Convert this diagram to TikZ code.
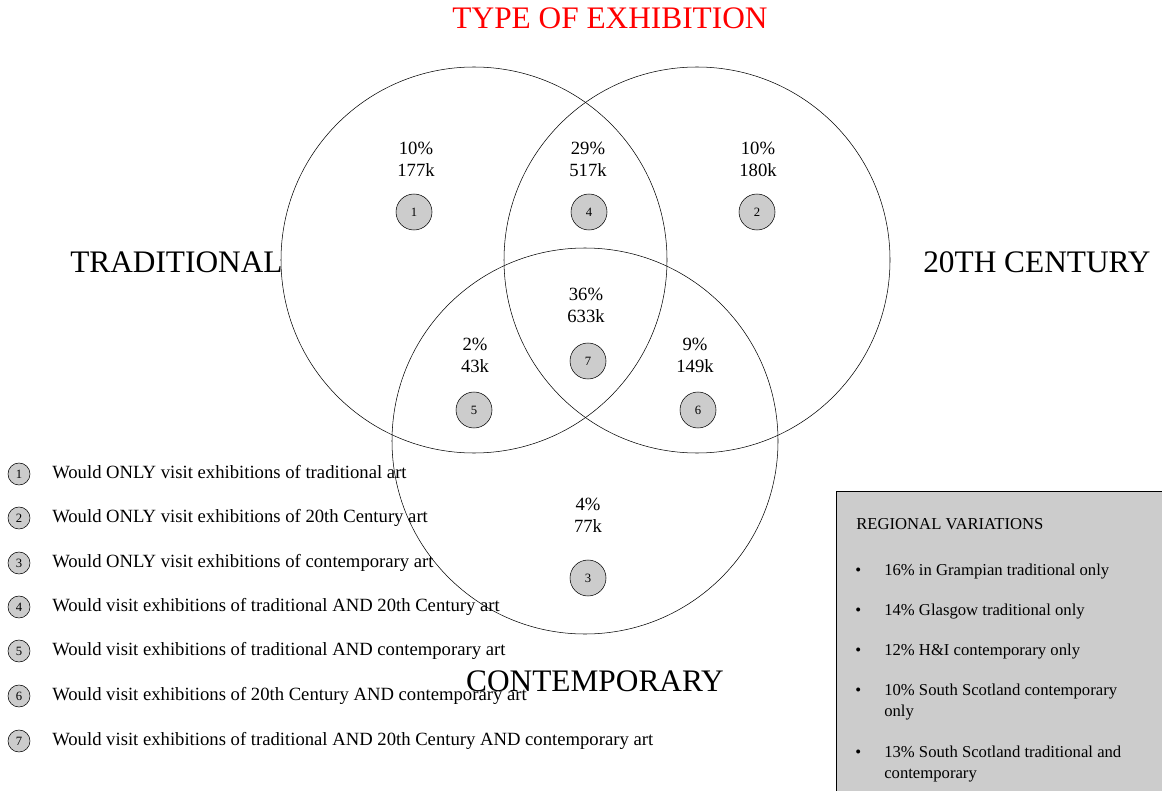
\documentclass[tikz,border=0pt]{standalone}
\usepackage{fontspec}
\setmainfont{Liberation Serif}
\usetikzlibrary{calc}
\tikzset{
  every node/.style = {font = \fontsize{14}{16.5}\selectfont}
}
\tikzset{
  marker/.style = {circle, draw, fill=black!20, inner sep=0pt,
    minimum size=27pt, font=\fontsize{9.5}{10}\selectfont},
  keymark/.style = {circle, draw, fill=black!20, inner sep=0pt,
    minimum size=16.5pt, font=\fontsize{9.5}{10}\selectfont},
  setname/.style = {font=\fontsize{23.5}{28}\selectfont},
  keytext/.style = {anchor=base west, inner sep=0pt},
  boxtext/.style = {anchor=north west, align=left, inner sep=0pt,
    font=\fontsize{12.5}{15.75}\selectfont},
  boxbullet/.style = {anchor=base west, inner sep=0pt,
    font=\fontsize{12.5}{15.75}\selectfont}
}

\begin{document}
\begin{tikzpicture}[x=0.75pt, y=-0.75pt]
\def\r{193}
\useasboundingbox (0,0) rectangle (1162,791);

\coordinate (T) at (474,260);
\coordinate (C) at (697,260);
\coordinate (M) at (585,441);

% Title
\node[setname, text=red] (title) at (610,18) {TYPE OF EXHIBITION};

% The three sets
\draw (T) circle[radius=\r];
\draw (C) circle[radius=\r];
\draw (M) circle[radius=\r];

\node[setname, anchor=west, inner sep=0pt] (trad) at (70,262) {TRADITIONAL};
\node[setname, anchor=west, inner sep=0pt] (cent) at (923,262) {20TH CENTURY};
\node[setname] (cont) at (595,681) {CONTEMPORARY};

% Shares and counts, one per region
\node[align=center] (v1) at (416,159) {10\%\\177k};
\node[align=center] (v4) at (588,159) {29\%\\517k};
\node[align=center] (v2) at (758,159) {10\%\\180k};
\node[align=center] (v7) at (586,305) {36\%\\633k};
\node[align=center] (v5) at (475,355) {2\%\\43k};
\node[align=center] (v6) at (695,355) {9\%\\149k};
\node[align=center] (v3) at (588,515) {4\%\\77k};

% Region markers
\node[marker] (m1) at (414,212) {1};
\node[marker] (m4) at (589,212) {4};
\node[marker] (m2) at (757,212) {2};
\node[marker] (m7) at (588,361) {7};
\node[marker] (m5) at (474,410) {5};
\node[marker] (m6) at (698,410) {6};
\node[marker] (m3) at (588,578) {3};

% Key
\foreach \i/\yy/\txt in {
  1/474/{Would ONLY visit exhibitions of traditional art},
  2/518/{Would ONLY visit exhibitions of 20th Century art},
  3/563/{Would ONLY visit exhibitions of contemporary art},
  4/607/{Would visit exhibitions of traditional AND 20th Century art},
  5/651/{Would visit exhibitions of traditional AND contemporary art},
  6/696/{Would visit exhibitions of 20th Century AND contemporary art},
  7/741/{Would visit exhibitions of traditional AND 20th Century AND contemporary art}}
{
  \node[keymark] (k\i) at (19,\yy) {\i};
  \node[keytext] (kt\i) at (52,\yy+4) {\txt};
}

% Regional box
\draw[fill=black!20] (836,491) rectangle (1170,800);
\node[boxtext] (rv) at (856,518) {REGIONAL VARIATIONS};
\foreach \j/\yy/\txt in {
  1/564/{16\% in Grampian traditional only},
  2/604/{14\% Glasgow traditional only},
  3/644/{12\% H\&I contemporary only},
  4/684/{10\% South Scotland contemporary\\only},
  5/746/{13\% South Scotland traditional and\\contemporary}}
{
  \node[boxbullet] (b\j) at (855,\yy+11.5) {\textbullet};
  \node[boxtext] (bt\j) at (884,\yy) {\txt};
}
\end{tikzpicture}
\end{document}
